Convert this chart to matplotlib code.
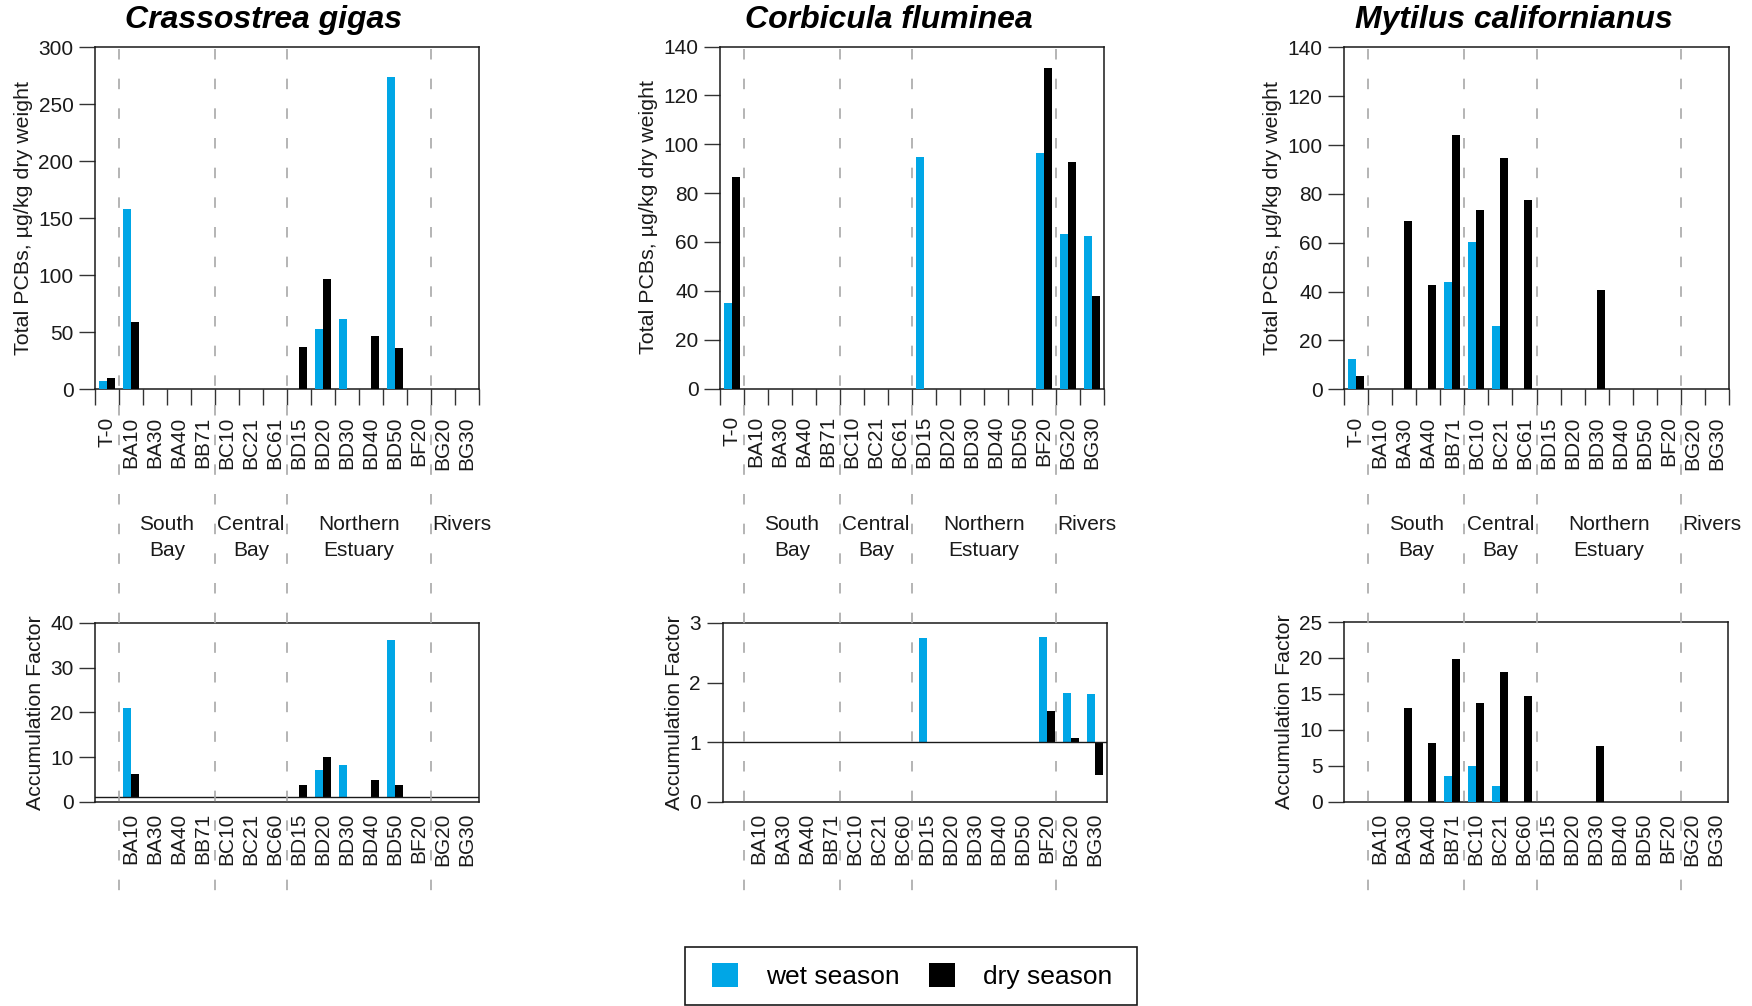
import numpy as np
import matplotlib
matplotlib.use("Agg")
import matplotlib.pyplot as plt
from matplotlib.transforms import blended_transform_factory
from matplotlib.patches import Patch, Rectangle
from matplotlib.lines import Line2D

plt.rcParams['font.family'] = ['Liberation Sans', 'DejaVu Sans']

nan = np.nan

# ---------------- data ----------------
species = ["Crassostrea gigas", "Corbicula fluminea", "Mytilus californianus"]

sites_top = ["T-0", "BA10", "BA30", "BA40", "BB71", "BC10", "BC21", "BC61",
             "BD15", "BD20", "BD30", "BD40", "BD50", "BF20", "BG20", "BG30"]
sites_bottom = ["BA10", "BA30", "BA40", "BB71", "BC10", "BC21", "BC60",
                "BD15", "BD20", "BD30", "BD40", "BD50", "BF20", "BG20", "BG30"]

regions = ["South\nBay", "Central\nBay", "Northern\nEstuary", "Rivers"]
region_centers = [3.0, 6.5, 11.0, 15.3]
region_dividers = [1, 5, 8, 14]

# Total PCBs, ug/kg dry weight (order of sites_top)
gigas_wet_pcb = [7.6, 158.2, nan, nan, nan, nan, nan, nan, nan, 52.9, 61.7, nan, 274.0, nan, nan, nan]
gigas_dry_pcb = [9.9, 59.1, nan, nan, nan, nan, nan, nan, 37.1, 96.8, nan, 46.8, 36.3, nan, nan, nan]
fluminea_wet_pcb = [34.8, nan, nan, nan, nan, nan, nan, nan, 94.6, nan, nan, nan, nan, 96.2, 63.4, 62.6]
fluminea_dry_pcb = [86.4, nan, nan, nan, nan, nan, nan, nan, nan, nan, nan, nan, nan, 131.4, 92.9, 37.7]
californianus_wet_pcb = [12.3, nan, nan, nan, 43.9, 60.2, 25.8, nan, nan, nan, nan, nan, nan, nan, nan, nan]
californianus_dry_pcb = [5.3, nan, 68.9, 42.6, 104.1, 73.4, 94.7, 77.5, nan, nan, 40.6, nan, nan, nan, nan, nan]

# Accumulation factors (order of sites_bottom)
gigas_wet_af = [21.0, nan, nan, nan, nan, nan, nan, nan, 7.1, 8.2, nan, 36.3, nan, nan, nan]
gigas_dry_af = [6.2, nan, nan, nan, nan, nan, nan, 3.7, 10.0, nan, 4.9, 3.7, nan, nan, nan]
fluminea_wet_af = [nan, nan, nan, nan, nan, nan, nan, 2.74, nan, nan, nan, nan, 2.77, 1.83, 1.81]
fluminea_dry_af = [nan, nan, nan, nan, nan, nan, nan, nan, nan, nan, nan, nan, 1.53, 1.07, 0.44]
californianus_wet_af = [nan, nan, nan, 3.6, 4.95, 2.2, nan, nan, nan, nan, nan, nan, nan, nan, nan]
californianus_dry_af = [nan, 13.1, 8.1, 19.8, 13.8, 18.0, 14.7, nan, nan, 7.7, nan, nan, nan, nan, nan]

top_yticks = [[0, 50, 100, 150, 200, 250, 300],
              [0, 20, 40, 60, 80, 100, 120, 140],
              [0, 20, 40, 60, 80, 100, 120, 140]]
bottom_yticks = [[0, 10, 20, 30, 40],
                 [0, 1, 2, 3],
                 [0, 5, 10, 15, 20, 25]]
af_baseline = [1, 1, 0]

series_labels = ["wet season", "dry season"]

# ---------------- style ----------------
WET = "#00A6E6"
DRY = "#000000"
INK = "#1a1a1a"
GRID = "#a8a8a8"
FS = 15.0
FS_LAB = 15.4

W, H = 1752, 1006
fig = plt.figure(figsize=(W / 100, H / 100), dpi=100)


def px_axes(l, t, r, b):
    return fig.add_axes([l / W, 1 - b / H, (r - l) / W, (b - t) / H])


top_rects = [(95, 47.3, 479, 389.3), (720, 46.5, 1104, 388.5), (1344, 47.3, 1729, 389.3)]
bot_rects = [(95, 623, 479, 801.7), (722.5, 623, 1106.5, 801.7), (1344, 622, 1728, 801.7)]

pcb = [(gigas_wet_pcb, gigas_dry_pcb),
       (fluminea_wet_pcb, fluminea_dry_pcb),
       (californianus_wet_pcb, californianus_dry_pcb)]
af = [(gigas_wet_af, gigas_dry_af),
      (fluminea_wet_af, fluminea_dry_af),
      (californianus_wet_af, californianus_dry_af)]

bw = 1 / 3
n_top = len(sites_top)
offset = n_top - len(sites_bottom)


def style_common(ax):
    for s in ax.spines.values():
        s.set_color(INK)
        s.set_linewidth(1.1)
    ax.tick_params(axis='y', direction='out', length=11.5, width=1.0, color='#333333',
                   labelsize=FS, labelcolor=INK, pad=4)
    ax.set_xlim(0, n_top)


for k in range(3):
    # ---- top: total PCBs ----
    ax = px_axes(*top_rects[k])
    x = np.arange(n_top)
    wet, dry = pcb[k]
    ax.bar(x + bw, np.array(wet, float), width=bw, color=WET, linewidth=0, zorder=3)
    ax.bar(x + 2 * bw, np.array(dry, float), width=bw, color=DRY, linewidth=0, zorder=3)
    style_common(ax)
    ax.set_ylim(top_yticks[k][0], top_yticks[k][-1])
    ax.set_yticks(top_yticks[k])
    ax.set_xticks(np.arange(n_top + 1))
    ax.set_xticklabels([])
    ax.set_xticks(x + 0.5, minor=True)
    ax.set_xticklabels(sites_top, minor=True, rotation=90, fontsize=FS, color=INK)
    ax.tick_params(axis='x', which='major', direction='out', length=11.5, width=1.0, color='#333333')
    ax.tick_params(axis='x', which='minor', length=0, pad=19.5)
    ax.set_ylabel("Total PCBs, µg/kg dry weight", fontsize=FS_LAB, color=INK, labelpad=4)
    ax.annotate(species[k], xy=(0.44, 1), xycoords='axes fraction', xytext=(0, 13.6),
                textcoords='offset points', ha='center', va='baseline',
                fontsize=23, fontweight='bold', fontstyle='italic', color='black')

    # dashed region dividers across the figure
    tr = blended_transform_factory(ax.transData, fig.transFigure)
    for xd in region_dividers:
        ln = Line2D([xd, xd], [1 - 49 / H, 1 - 892 / H], transform=tr, color=GRID,
                    lw=1.2, linestyle=(0, (6.3, 11.5)), clip_on=False, zorder=1)
        fig.add_artist(ln)
    # region labels
    for name, xc in zip(regions, region_centers):
        for j, line in enumerate(name.split("\n")):
            t = fig.text(0, 0, line, fontsize=FS, color=INK, ha='center', va='baseline')
            t.set_transform(tr)
            t.set_position((xc, 1 - (530.5 + 25 * j) / H))

    # ---- bottom: accumulation factor ----
    axb = px_axes(*bot_rects[k])
    xb = np.arange(len(sites_bottom)) + offset
    wet, dry = af[k]
    base = af_baseline[k]
    axb.bar(xb + bw, np.array(wet, float) - base, bottom=base, width=bw, color=WET, linewidth=0, zorder=3)
    axb.bar(xb + 2 * bw, np.array(dry, float) - base, bottom=base, width=bw, color=DRY, linewidth=0, zorder=3)
    style_common(axb)
    axb.set_ylim(bottom_yticks[k][0], bottom_yticks[k][-1])
    axb.set_yticks(bottom_yticks[k])
    axb.set_xticks(xb + 0.5)
    axb.set_xticklabels(sites_bottom, rotation=90, fontsize=FS, color=INK)
    axb.tick_params(axis='x', length=0, pad=8)
    if base != 0:
        axb.axhline(base, color=INK, lw=1.0, zorder=4)
    axb.set_ylabel("Accumulation Factor", fontsize=FS_LAB, color=INK, labelpad=4)

# legend (content) plus its rectangular frame
leg = fig.legend([Patch(facecolor=WET), Patch(facecolor=DRY)], series_labels,
                 loc='center', bbox_to_anchor=(912 / W, 1 - 976 / H), ncol=2,
                 fontsize=19, frameon=False,
                 handlelength=1.0, handleheight=1.0, handletextpad=1.05,
                 columnspacing=1.1, borderpad=0.3)
frame = Rectangle((685 / W, 1 - 1005 / H), (1137 - 685) / W, (1005 - 947) / H,
                  transform=fig.transFigure, fill=False, edgecolor=INK, lw=1.2)
fig.add_artist(frame)

fig.savefig("out.png", dpi=100)
